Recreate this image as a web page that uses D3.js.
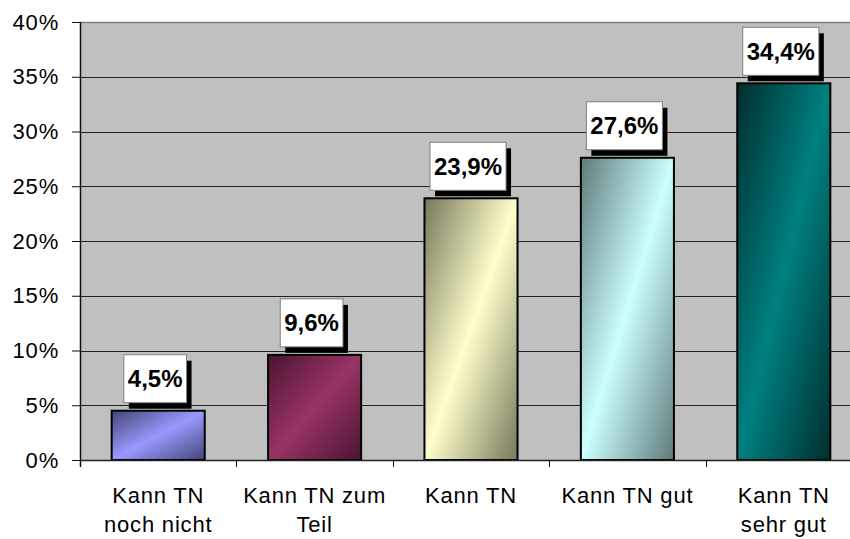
<!DOCTYPE html>
<html>
<head>
<meta charset="utf-8">
<script src="https://cdn.jsdelivr.net/npm/d3@7"></script>
<style>
  body { margin: 0; background: #fff; }
  text { font-family: "Liberation Sans", Arial, sans-serif; }
</style>
</head>
<body>
<div id="chart"></div>
<script>
// chart data
const categories = [
  ["Kann TN", "noch nicht"],
  ["Kann TN zum", "Teil"],
  ["Kann TN"],
  ["Kann TN gut"],
  ["Kann TN", "sehr gut"]
];
const values = [4.5, 9.6, 23.9, 27.6, 34.4];
const yTicks = [0, 5, 10, 15, 20, 25, 30, 35, 40];

// bar colours (light centre, dark corners)
const lightColors = ["#9999ff", "#993366", "#ffffcc", "#ccffff", "#008080"];
const darkColors = ["#444477", "#4a1530", "#77775c", "#5f7a7a", "#002e2e"];

const width = 850;
const height = 539;
const margin = {left: 80, right: -12, top: 22, bottom: 80};

const deFormat = d3.formatLocale({decimal: ",", thousands: ".", grouping: [3], currency: ["", "€"]});
const fmtVal = d => deFormat.format(".1f")(d) + "%";

const svg = d3.select("#chart")
  .append("svg")
  .attr("width", width)
  .attr("height", height);

// gradients
const defs = svg.append("defs");
lightColors.forEach((c, i) => {
  const g = defs.append("linearGradient")
    .attr("id", "grad" + i)
    .attr("x1", 0).attr("y1", 0).attr("x2", 1).attr("y2", 1);
  g.append("stop").attr("offset", "0%").attr("stop-color", darkColors[i]);
  g.append("stop").attr("offset", "50%").attr("stop-color", c);
  g.append("stop").attr("offset", "100%").attr("stop-color", darkColors[i]);
});

const y = d3.scaleLinear()
  .domain([0, 40])
  .range([height - margin.bottom + 1, margin.top]);

const x = d3.scaleBand()
  .domain(d3.range(values.length))
  .range([margin.left, width - margin.right])
  .paddingInner(0.405)
  .paddingOuter(0.2025);

// plot background
svg.append("rect")
  .attr("x", margin.left)
  .attr("y", margin.top)
  .attr("width", width - margin.right - margin.left)
  .attr("height", y(0) - margin.top)
  .attr("fill", "#c0c0c0");

// gridlines
svg.append("g")
  .selectAll("line")
  .data(yTicks.filter(t => t > 0))
  .enter()
  .append("line")
  .attr("x1", margin.left)
  .attr("x2", width)
  .attr("y1", d => Math.round(y(d)) + 0.5)
  .attr("y2", d => Math.round(y(d)) + 0.5)
  .attr("stroke", d => d === 40 ? "#808080" : "#222")
  .attr("stroke-width", d => d === 40 ? 1.5 : 1);

// y axis
const yAxis = svg.append("g")
  .attr("transform", `translate(${margin.left},0)`)
  .call(d3.axisLeft(y).tickValues(yTicks).tickSize(8).tickPadding(13)
    .tickFormat(d => d + "%"));
yAxis.select(".domain").remove();
yAxis.selectAll(".tick line").attr("stroke", "#111");
yAxis.selectAll("text")
  .attr("font-size", "22px")
  .attr("letter-spacing", "0.8px")
  .attr("fill", "#000")
  .attr("font-family", "Liberation Sans, Arial, sans-serif");
svg.append("line")
  .attr("x1", margin.left + 0.5).attr("x2", margin.left + 0.5)
  .attr("y1", margin.top).attr("y2", y(0) + 7)
  .attr("stroke", "#111").attr("stroke-width", 1.5);

// category boundary ticks
const step = x.step();
svg.append("g")
  .selectAll("line")
  .data(d3.range(1, values.length + 1))
  .enter()
  .append("line")
  .attr("x1", i => Math.round(x(i - 1) - x.paddingOuter() * step + step * 0 + step) + 0.5)
  .attr("x2", i => Math.round(x(i - 1) - x.paddingOuter() * step + step) + 0.5)
  .attr("y1", y(0))
  .attr("y2", y(0) + 7)
  .attr("stroke", "#111");

// bars
svg.selectAll(".bar")
  .data(values)
  .enter()
  .append("rect")
  .attr("class", "bar")
  .attr("x", (d, i) => x(i))
  .attr("y", d => y(d))
  .attr("width", x.bandwidth())
  .attr("height", d => y(0) - y(d))
  .attr("fill", (d, i) => `url(#grad${i})`)
  .attr("stroke", "#000")
  .attr("stroke-width", 2);

// x axis line
svg.append("line")
  .attr("x1", margin.left).attr("x2", width)
  .attr("y1", y(0) + 0.5).attr("y2", y(0) + 0.5)
  .attr("stroke", "#222").attr("stroke-width", 1.5);

// value labels with shadow box
const labels = svg.selectAll(".vlabel")
  .data(values)
  .enter()
  .append("g")
  .attr("class", "vlabel");

labels.each(function(d, i) {
  const g = d3.select(this);
  const cx = x(i) + x.bandwidth() / 2 - 3;
  const boxBottom = y(d) - 8;
  const boxH = 48;
  const shadow = g.append("rect");
  const box = g.append("rect");
  const t = g.append("text")
    .attr("x", cx)
    .attr("y", boxBottom - boxH / 2 + 8.5)
    .attr("text-anchor", "middle")
    .attr("font-size", "24px")
    .attr("font-weight", "bold")
    .attr("fill", "#000")
    .text(fmtVal(d));
  const w = t.node().getComputedTextLength() + 8;
  shadow.attr("x", cx - w / 2 + 5)
    .attr("y", boxBottom - boxH + 6)
    .attr("width", w)
    .attr("height", boxH)
    .attr("fill", "#000");
  box.attr("x", cx - w / 2)
    .attr("y", boxBottom - boxH)
    .attr("width", w)
    .attr("height", boxH)
    .attr("fill", "#fff")
    .attr("stroke", "#808080")
    .attr("stroke-width", 1);
});

// category labels
const cats = svg.selectAll(".cat")
  .data(categories)
  .enter()
  .append("text")
  .attr("class", "cat")
  .attr("text-anchor", "middle")
  .attr("font-size", "22px")
  .attr("letter-spacing", "0.8px")
  .attr("fill", "#000")
  .attr("x", (d, i) => x(i) + x.bandwidth() / 2)
  .attr("y", 503);

cats.selectAll("tspan")
  .data(d => d)
  .enter()
  .append("tspan")
  .attr("x", function() { return d3.select(this.parentNode).attr("x"); })
  .attr("dy", (d, j) => j === 0 ? 0 : 29)
  .text(d => d);
</script>
</body>
</html>
